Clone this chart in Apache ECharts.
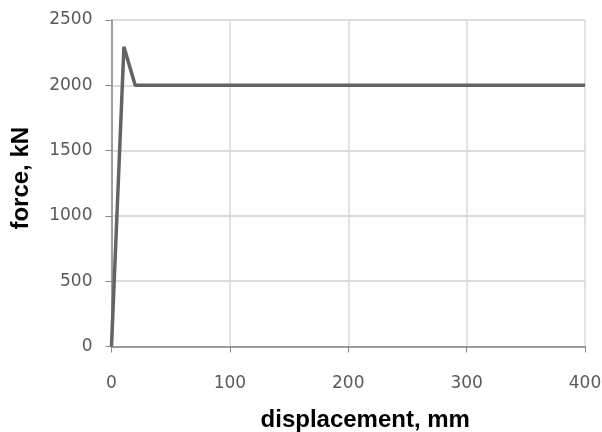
<!DOCTYPE html>
<html><head><meta charset="utf-8">
<script src="https://cdn.jsdelivr.net/npm/echarts@6/dist/echarts.min.js"></script>
<style>html,body{margin:0;padding:0;background:#fff}#c{width:602px;height:432px}</style>
</head><body><div id="c"></div>
<script>
var displacement = [0, 10.5, 20, 400];
var force = [0, 2295, 2000, 2000];
var xTicks = [0, 100, 200, 300, 400];
var yTicks = [0, 500, 1000, 1500, 2000, 2500];

var pts = displacement.map(function (d, i) { return [d, force[i]]; });
var chart = echarts.init(document.getElementById('c'), null, {renderer: 'canvas'});
chart.setOption({
  animation: false,
  backgroundColor: '#fff',
  grid: {left: 111.5, right: 17, top: 20, bottom: 85.5, containLabel: false, outerBoundsMode: 'none'},
  xAxis: {
    type: 'value', min: xTicks[0], max: xTicks[xTicks.length - 1], interval: 100,
    name: 'displacement, mm', nameLocation: 'middle', nameGap: 62,
    nameTextStyle: {fontFamily: 'Liberation Sans, Arial', fontWeight: 'bold', fontSize: 24, color: '#000', padding: [0, 0, 0, 34]},
    axisLine: {show: true, lineStyle: {color: '#868686', width: 1.5}},
    axisTick: {show: true, length: 6, lineStyle: {color: '#868686'}},
    axisLabel: {margin: 29, fontFamily: 'DejaVu Sans', fontSize: 17, color: '#595959', formatter: function (v) { return String(v); }},
    splitLine: {show: true, lineStyle: {color: '#d9d9d9', width: 1.5}}
  },
  yAxis: {
    type: 'value', min: yTicks[0], max: yTicks[yTicks.length - 1], interval: 500,
    name: 'force, kN', nameLocation: 'middle', nameGap: 78,
    nameTextStyle: {fontFamily: 'Liberation Sans, Arial', fontWeight: 'bold', fontSize: 24, color: '#000', padding: [0, 0, 0, 10]},
    axisLine: {show: true, lineStyle: {color: '#868686', width: 1.5}},
    axisTick: {show: true, length: 6, lineStyle: {color: '#868686'}},
    axisLabel: {margin: 19, fontFamily: 'DejaVu Sans', fontSize: 17, color: '#595959', formatter: function (v) { return String(v); }},
    splitLine: {show: true, lineStyle: {color: '#d0d0d0', width: 1.5}}
  },
  series: [{
    type: 'line', data: pts, showSymbol: false, symbol: 'none',
    lineStyle: {color: '#636363', width: 3.5}
  }]
});
</script></body></html>
